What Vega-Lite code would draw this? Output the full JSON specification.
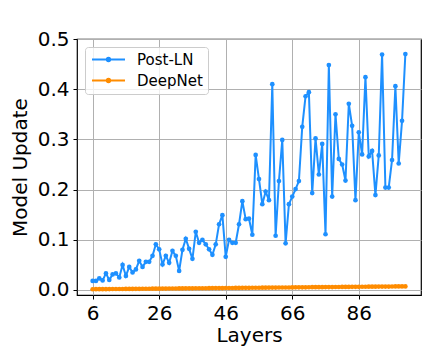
{
  "$schema": "https://vega.github.io/schema/vega-lite/v6.json",
  "width": 344,
  "height": 256,
  "autosize": "none",
  "padding": {"left": 77, "top": 39, "right": 21, "bottom": 63},
  "background": "white",
  "config": {
    "font": "DejaVu Sans",
    "view": {"stroke": "black", "strokeWidth": 1.2},
    "axis": {
      "domain": false,
      "grid": true,
      "gridColor": "#b0b0b0",
      "gridWidth": 1,
      "tickColor": "black",
      "tickSize": 4,
      "tickWidth": 1,
      "labelFont": "DejaVu Sans",
      "labelFontSize": 20,
      "labelColor": "black",
      "titleFont": "DejaVu Sans",
      "titleFontSize": 20,
      "titleFontWeight": "normal",
      "titleColor": "black"
    }
  },
  "data": {
    "values": [
      {"layer": 6, "Post-LN": 0.018, "DeepNet": 0.0015},
      {"layer": 7, "Post-LN": 0.018, "DeepNet": 0.0016},
      {"layer": 8, "Post-LN": 0.023, "DeepNet": 0.0016},
      {"layer": 9, "Post-LN": 0.019, "DeepNet": 0.0017},
      {"layer": 10, "Post-LN": 0.033, "DeepNet": 0.0017},
      {"layer": 11, "Post-LN": 0.020, "DeepNet": 0.0018},
      {"layer": 12, "Post-LN": 0.031, "DeepNet": 0.0019},
      {"layer": 13, "Post-LN": 0.033, "DeepNet": 0.0019},
      {"layer": 14, "Post-LN": 0.025, "DeepNet": 0.0020},
      {"layer": 15, "Post-LN": 0.050, "DeepNet": 0.0020},
      {"layer": 16, "Post-LN": 0.028, "DeepNet": 0.0021},
      {"layer": 17, "Post-LN": 0.046, "DeepNet": 0.0022},
      {"layer": 18, "Post-LN": 0.035, "DeepNet": 0.0022},
      {"layer": 19, "Post-LN": 0.041, "DeepNet": 0.0023},
      {"layer": 20, "Post-LN": 0.058, "DeepNet": 0.0023},
      {"layer": 21, "Post-LN": 0.046, "DeepNet": 0.0024},
      {"layer": 22, "Post-LN": 0.056, "DeepNet": 0.0025},
      {"layer": 23, "Post-LN": 0.056, "DeepNet": 0.0025},
      {"layer": 24, "Post-LN": 0.068, "DeepNet": 0.0026},
      {"layer": 25, "Post-LN": 0.091, "DeepNet": 0.0026},
      {"layer": 26, "Post-LN": 0.081, "DeepNet": 0.0027},
      {"layer": 27, "Post-LN": 0.051, "DeepNet": 0.0028},
      {"layer": 28, "Post-LN": 0.068, "DeepNet": 0.0028},
      {"layer": 29, "Post-LN": 0.054, "DeepNet": 0.0029},
      {"layer": 30, "Post-LN": 0.078, "DeepNet": 0.0029},
      {"layer": 31, "Post-LN": 0.068, "DeepNet": 0.0030},
      {"layer": 32, "Post-LN": 0.038, "DeepNet": 0.0031},
      {"layer": 33, "Post-LN": 0.080, "DeepNet": 0.0031},
      {"layer": 34, "Post-LN": 0.102, "DeepNet": 0.0032},
      {"layer": 35, "Post-LN": 0.082, "DeepNet": 0.0032},
      {"layer": 36, "Post-LN": 0.062, "DeepNet": 0.0033},
      {"layer": 37, "Post-LN": 0.116, "DeepNet": 0.0034},
      {"layer": 38, "Post-LN": 0.094, "DeepNet": 0.0034},
      {"layer": 39, "Post-LN": 0.100, "DeepNet": 0.0035},
      {"layer": 40, "Post-LN": 0.091, "DeepNet": 0.0035},
      {"layer": 41, "Post-LN": 0.081, "DeepNet": 0.0036},
      {"layer": 42, "Post-LN": 0.070, "DeepNet": 0.0037},
      {"layer": 43, "Post-LN": 0.091, "DeepNet": 0.0037},
      {"layer": 44, "Post-LN": 0.131, "DeepNet": 0.0038},
      {"layer": 45, "Post-LN": 0.149, "DeepNet": 0.0038},
      {"layer": 46, "Post-LN": 0.066, "DeepNet": 0.0039},
      {"layer": 47, "Post-LN": 0.100, "DeepNet": 0.0040},
      {"layer": 48, "Post-LN": 0.094, "DeepNet": 0.0040},
      {"layer": 49, "Post-LN": 0.094, "DeepNet": 0.0041},
      {"layer": 50, "Post-LN": 0.131, "DeepNet": 0.0041},
      {"layer": 51, "Post-LN": 0.177, "DeepNet": 0.0042},
      {"layer": 52, "Post-LN": 0.141, "DeepNet": 0.0043},
      {"layer": 53, "Post-LN": 0.142, "DeepNet": 0.0043},
      {"layer": 54, "Post-LN": 0.110, "DeepNet": 0.0044},
      {"layer": 55, "Post-LN": 0.269, "DeepNet": 0.0044},
      {"layer": 56, "Post-LN": 0.221, "DeepNet": 0.0045},
      {"layer": 57, "Post-LN": 0.171, "DeepNet": 0.0046},
      {"layer": 58, "Post-LN": 0.196, "DeepNet": 0.0046},
      {"layer": 59, "Post-LN": 0.179, "DeepNet": 0.0047},
      {"layer": 60, "Post-LN": 0.410, "DeepNet": 0.0047},
      {"layer": 61, "Post-LN": 0.108, "DeepNet": 0.0048},
      {"layer": 62, "Post-LN": 0.217, "DeepNet": 0.0049},
      {"layer": 63, "Post-LN": 0.299, "DeepNet": 0.0049},
      {"layer": 64, "Post-LN": 0.093, "DeepNet": 0.0050},
      {"layer": 65, "Post-LN": 0.171, "DeepNet": 0.0050},
      {"layer": 66, "Post-LN": 0.186, "DeepNet": 0.0051},
      {"layer": 67, "Post-LN": 0.201, "DeepNet": 0.0052},
      {"layer": 68, "Post-LN": 0.217, "DeepNet": 0.0052},
      {"layer": 69, "Post-LN": 0.325, "DeepNet": 0.0053},
      {"layer": 70, "Post-LN": 0.386, "DeepNet": 0.0053},
      {"layer": 71, "Post-LN": 0.394, "DeepNet": 0.0054},
      {"layer": 72, "Post-LN": 0.193, "DeepNet": 0.0055},
      {"layer": 73, "Post-LN": 0.302, "DeepNet": 0.0055},
      {"layer": 74, "Post-LN": 0.230, "DeepNet": 0.0056},
      {"layer": 75, "Post-LN": 0.291, "DeepNet": 0.0056},
      {"layer": 76, "Post-LN": 0.111, "DeepNet": 0.0057},
      {"layer": 77, "Post-LN": 0.448, "DeepNet": 0.0058},
      {"layer": 78, "Post-LN": 0.186, "DeepNet": 0.0058},
      {"layer": 79, "Post-LN": 0.350, "DeepNet": 0.0059},
      {"layer": 80, "Post-LN": 0.261, "DeepNet": 0.0059},
      {"layer": 81, "Post-LN": 0.250, "DeepNet": 0.0060},
      {"layer": 82, "Post-LN": 0.218, "DeepNet": 0.0061},
      {"layer": 83, "Post-LN": 0.371, "DeepNet": 0.0061},
      {"layer": 84, "Post-LN": 0.327, "DeepNet": 0.0062},
      {"layer": 85, "Post-LN": 0.179, "DeepNet": 0.0062},
      {"layer": 86, "Post-LN": 0.314, "DeepNet": 0.0063},
      {"layer": 87, "Post-LN": 0.270, "DeepNet": 0.0064},
      {"layer": 88, "Post-LN": 0.424, "DeepNet": 0.0064},
      {"layer": 89, "Post-LN": 0.266, "DeepNet": 0.0065},
      {"layer": 90, "Post-LN": 0.277, "DeepNet": 0.0065},
      {"layer": 91, "Post-LN": 0.189, "DeepNet": 0.0066},
      {"layer": 92, "Post-LN": 0.268, "DeepNet": 0.0067},
      {"layer": 93, "Post-LN": 0.469, "DeepNet": 0.0067},
      {"layer": 94, "Post-LN": 0.204, "DeepNet": 0.0068},
      {"layer": 95, "Post-LN": 0.204, "DeepNet": 0.0068},
      {"layer": 96, "Post-LN": 0.259, "DeepNet": 0.0069},
      {"layer": 97, "Post-LN": 0.406, "DeepNet": 0.0070},
      {"layer": 98, "Post-LN": 0.252, "DeepNet": 0.0070},
      {"layer": 99, "Post-LN": 0.337, "DeepNet": 0.0071},
      {"layer": 100, "Post-LN": 0.470, "DeepNet": 0.0071}
    ]
  },
  "transform": [
    {"fold": ["Post-LN", "DeepNet"], "as": ["series", "value"]}
  ],
  "mark": {
    "type": "line",
    "strokeWidth": 2,
    "point": {"filled": true, "size": 22}
  },
  "encoding": {
    "x": {
      "field": "layer",
      "type": "quantitative",
      "title": "Layers",
      "scale": {"domain": [1.3, 104.7], "nice": false, "zero": false},
      "axis": {"values": [6, 26, 46, 66, 86], "labelPadding": 4, "titlePadding": 2}
    },
    "y": {
      "field": "value",
      "type": "quantitative",
      "title": "Model Update",
      "scale": {"domain": [-0.01, 0.5], "nice": false, "zero": false},
      "axis": {"values": [0, 0.1, 0.2, 0.3, 0.4, 0.5], "format": ".1f", "labelPadding": 4, "titlePadding": 7}
    },
    "color": {
      "field": "series",
      "type": "nominal",
      "scale": {"domain": ["Post-LN", "DeepNet"], "range": ["#1e90ff", "#ff8c00"]},
      "legend": {
        "title": null,
        "orient": "none",
        "legendX": 8,
        "legendY": 8,
        "padding": 5,
        "rowPadding": 5,
        "labelFontSize": 15,
        "labelFont": "DejaVu Sans",
        "labelColor": "black",
        "labelOffset": 32,
        "symbolType": "M-1,0L5,0M1.7,0a0.3,0.3 0 1,0 0.6,0a0.3,0.3 0 1,0 -0.6,0",
        "symbolSize": 121,
        "symbolStrokeWidth": 2,
        "strokeColor": "#cccccc",
        "fillColor": "rgba(255,255,255,0.8)",
        "cornerRadius": 3
      }
    }
  }
}
